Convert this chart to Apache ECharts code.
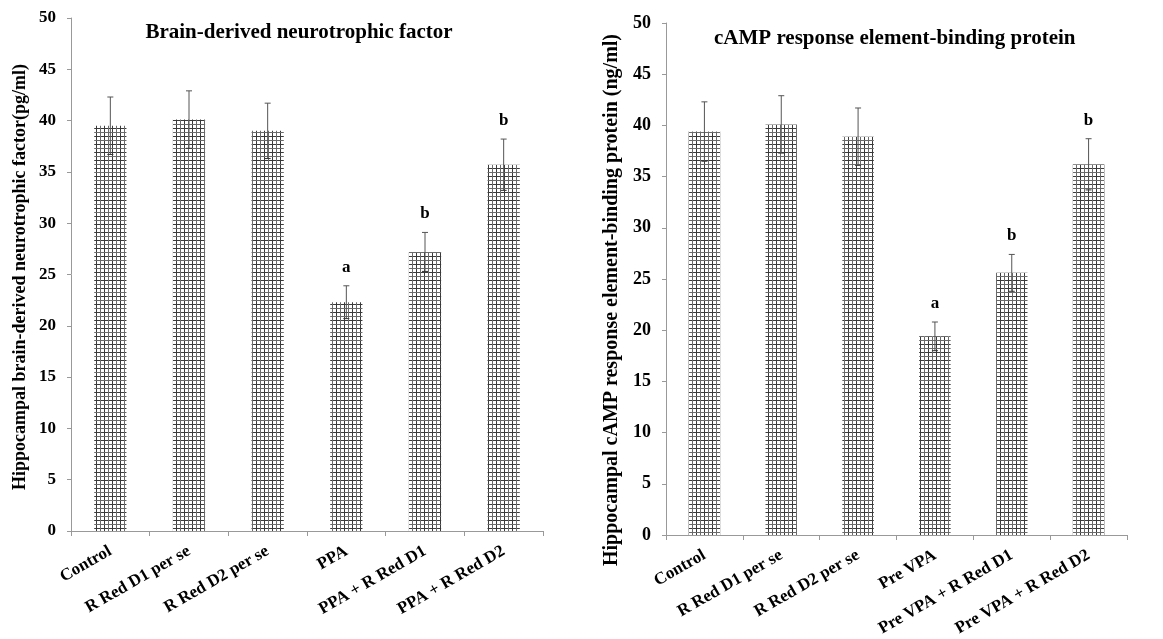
<!DOCTYPE html>
<html>
<head>
<meta charset="utf-8">
<script src="https://cdn.jsdelivr.net/npm/echarts@6/dist/echarts.min.js"></script>
<style>
  html, body { margin: 0; padding: 0; background: #fff; }
  #chart { width: 1163px; height: 639px; }
</style>
</head>
<body>
<div id="chart"></div>
<script>
// data
var bdnfGroups = ["Control", "R Red D1 per se", "R Red D2 per se", "PPA", "PPA + R Red D1", "PPA + R Red D2"];
var bdnfMean = [39.5, 40.1, 39.0, 22.3, 27.2, 35.7];
var bdnfErr = [2.8, 2.8, 2.7, 1.6, 1.9, 2.5];
var bdnfMark = ["", "", "", "a", "b", "b"];

var crebGroups = ["Control", "R Red D1 per se", "R Red D2 per se", "Pre VPA", "Pre VPA + R Red D1", "Pre VPA + R Red D2"];
var crebMean = [39.4, 40.1, 38.9, 19.4, 25.6, 36.2];
var crebErr = [2.9, 2.8, 2.8, 1.4, 1.8, 2.5];
var crebMark = ["", "", "", "a", "b", "b"];

var yTicks = [0, 5, 10, 15, 20, 25, 30, 35, 40, 45, 50];

var serif = '"Liberation Serif", "DejaVu Serif", serif';

// little cross-hatch tile for the bars
function hatch() {
  var c = document.createElement("canvas");
  c.width = 8; c.height = 8;
  var g = c.getContext("2d");
  g.fillStyle = "#fff";
  g.fillRect(0, 0, 8, 8);
  g.fillStyle = "#3a3a3a";
  g.fillRect(0, 0, 1, 8);
  g.fillRect(0, 0, 8, 1);
  g.fillStyle = "#6a6a6a";
  g.fillRect(4, 0, 1, 8);
  g.fillRect(0, 4, 8, 1);
  return c;
}
var tile = hatch();

function errData(mean, err, mark) {
  return mean.map(function (m, i) { return [i, m, err[i], mark[i]]; });
}

function renderErr(params, api) {
  var x = api.value(0), m = api.value(1), e = api.value(2);
  var top = api.coord([x, m + e]);
  var bot = api.coord([x, m - e]);
  var cap = 3;
  var kids = [
    { type: "line", shape: { x1: top[0], y1: top[1], x2: bot[0], y2: bot[1] }, style: { stroke: "#555", lineWidth: 1 } },
    { type: "line", shape: { x1: top[0] - cap, y1: top[1], x2: top[0] + cap, y2: top[1] }, style: { stroke: "#555", lineWidth: 1 } },
    { type: "line", shape: { x1: bot[0] - cap, y1: bot[1], x2: bot[0] + cap, y2: bot[1] }, style: { stroke: "#333", lineWidth: 1 } }
  ];
  var mk = api.value(3);
  if (mk) {
    kids.push({
      type: "text",
      style: { text: mk, x: top[0], y: top[1] - 10, align: "center", verticalAlign: "bottom",
        font: "bold 17px " + serif, fill: "#000" }
    });
  }
  return { type: "group", children: kids };
}

function xAxisFor(idx, cats) {
  return {
    type: "category", gridIndex: idx, data: cats,
    axisLine: { lineStyle: { color: "#999", width: 1 } },
    axisTick: { show: true, alignWithLabel: false, length: 5, lineStyle: { color: "#999" } },
    axisLabel: { rotate: 30, interval: 0, margin: 19, color: "#000", fontFamily: serif, fontWeight: "bold", fontSize: 17 }
  };
}

function yAxisFor(idx, size) {
  return {
    type: "value", gridIndex: idx, min: yTicks[0], max: yTicks[yTicks.length - 1], interval: 5,
    axisLine: { show: true, lineStyle: { color: "#999", width: 1 } },
    axisTick: { show: true, length: 4, lineStyle: { color: "#999" } },
    splitLine: { show: false },
    axisLabel: { margin: 15, color: "#000", fontFamily: serif, fontWeight: "bold", fontSize: size }
  };
}

var chart = echarts.init(document.getElementById("chart"), null, { renderer: "canvas" });
chart.setOption({
  animation: false,
  backgroundColor: "#fff",
  title: [
    { text: "Brain-derived neurotrophic factor", left: 294, top: 17, textAlign: "center",
      textStyle: { fontFamily: serif, fontWeight: "bold", fontSize: 21, color: "#000" } },
    { text: "cAMP response element-binding protein", left: 709, top: 23,
      textStyle: { fontFamily: serif, fontWeight: "bold", fontSize: 21, color: "#000" } }
  ],
  graphic: [
    { type: "text", x: 20, y: 277, rotation: Math.PI / 2,
      style: { text: "Hippocampal brain-derived neurotrophic factor(pg/ml)", align: "center", verticalAlign: "middle",
        font: "bold 18px " + serif, fill: "#000" } },
    { type: "text", x: 612, y: 300, rotation: Math.PI / 2,
      style: { text: "Hippocampal cAMP response element-binding protein (ng/ml)", align: "center", verticalAlign: "middle",
        font: "bold 20px " + serif, fill: "#000" } }
  ],
  grid: [
    { left: 71, top: 18, width: 472, height: 513 },
    { left: 666, top: 23, width: 461, height: 512 }
  ],
  xAxis: [xAxisFor(0, bdnfGroups), xAxisFor(1, crebGroups)],
  yAxis: [yAxisFor(0, 17), yAxisFor(1, 18)],
  series: [
    { type: "bar", xAxisIndex: 0, yAxisIndex: 0, data: bdnfMean, barWidth: "41%",
      itemStyle: { color: { image: tile, repeat: "repeat" } } },
    { type: "custom", xAxisIndex: 0, yAxisIndex: 0, renderItem: renderErr, data: errData(bdnfMean, bdnfErr, bdnfMark), z: 5 },
    { type: "bar", xAxisIndex: 1, yAxisIndex: 1, data: crebMean, barWidth: "41%",
      itemStyle: { color: { image: tile, repeat: "repeat" } } },
    { type: "custom", xAxisIndex: 1, yAxisIndex: 1, renderItem: renderErr, data: errData(crebMean, crebErr, crebMark), z: 5 }
  ]
});
</script>
</body>
</html>
